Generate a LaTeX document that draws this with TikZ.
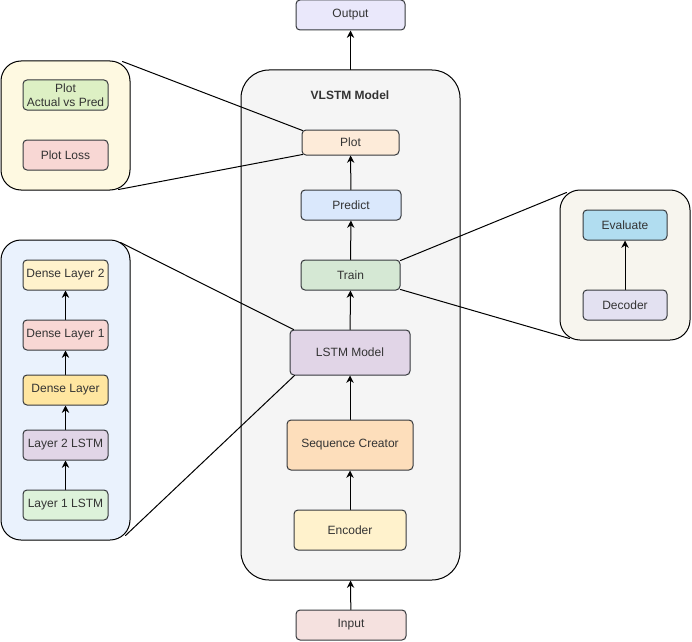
\documentclass[tikz,border=0pt]{standalone}
\usepackage{fontspec}
\setmainfont{Liberation Sans}
\usepackage{xcolor}
\usetikzlibrary{arrows.meta}
\usetikzlibrary{calc}

\definecolor{edgegray}{HTML}{36393D}
\definecolor{txtgray}{HTML}{333333}
\definecolor{outfill}{HTML}{EAE8FB}
\definecolor{infill}{HTML}{F5E1DF}
\definecolor{boxfill}{HTML}{F5F5F5}
\definecolor{plotfill}{HTML}{FDEBD9}
\definecolor{predfill}{HTML}{DAE8FC}
\definecolor{trainfill}{HTML}{D5E8D4}
\definecolor{lstmfill}{HTML}{E1D5E7}
\definecolor{seqfill}{HTML}{FDDEBB}
\definecolor{encfill}{HTML}{FFF2CC}
\definecolor{ypanelfill}{HTML}{FEF9E1}
\definecolor{avpfill}{HTML}{DDF0C4}
\definecolor{lossfill}{HTML}{F8D7D4}
\definecolor{bpanelfill}{HTML}{EAF2FD}
\definecolor{densefill}{HTML}{FFE6A0}
\definecolor{lonefill}{HTML}{DDF2DA}
\definecolor{rpanelfill}{HTML}{F7F5EE}
\definecolor{evalfill}{HTML}{B1DDF0}
\definecolor{decfill}{HTML}{E3E1F1}

\begin{document}
\begin{tikzpicture}[x=0.75pt, y=-0.75pt, line cap=round, line join=round,
		blk/.style={draw=edgegray, line width=0.75pt, rounded corners=3pt, text=txtgray,
			font=\fontsize{9}{10.5}\selectfont, align=center, inner sep=0pt},
		panel/.style={draw=black, line width=0.75pt, rounded corners=15pt, inner sep=0pt},
		flow/.style={-{Stealth[length=5.5pt,width=5.5pt]}, line width=0.75pt},
		zoomline/.style={line width=0.75pt}]
		\useasboundingbox[fill=white] (0,0) rectangle (692,642);
		% main model
		\node[panel, fill=boxfill, rounded corners=21pt, minimum width=164.25pt, minimum height=382.5pt] (vlstm) at (350.5,325) {};
		\node[font=\bfseries\fontsize{9}{10.5}\selectfont, text=txtgray] (vlstmtitle) at (350,95) {VLSTM Model};
		\node[blk, fill=outfill, minimum width=81.75pt, minimum height=22.5pt] (output) at (350.5,15) {Output};
		\node[blk, fill=infill, minimum width=82.5pt, minimum height=22.5pt] (input) at (351,625) {Input};
		\node[blk, fill=plotfill, minimum width=72.75pt, minimum height=18.75pt] (plot) at (350.5,142.5) {Plot};
		\node[blk, fill=predfill, minimum width=75pt, minimum height=22.5pt] (predict) at (351,205) {Predict};
		\node[blk, fill=trainfill, minimum width=74.25pt, minimum height=22.5pt] (train) at (350.5,275) {Train};
		\node[blk, fill=lstmfill, minimum width=90pt, minimum height=33.75pt] (lstm) at (350,352.5) {LSTM Model};
		\node[blk, fill=seqfill, minimum width=94.5pt, minimum height=37.5pt] (seqcreator) at (350,445) {Sequence Creator};
		\node[blk, fill=encfill, minimum width=84pt, minimum height=30pt] (encoder) at (350,530) {Encoder};
		\draw[flow] (input) -- (vlstm.south);
		\draw[flow] (vlstm.north) -- (output);
		\draw[flow] (encoder) -- (seqcreator);
		\draw[flow] (seqcreator) -- (lstm);
		\draw[flow] (lstm) -- (train);
		\draw[flow] (train) -- (predict);
		\draw[flow] (predict) -- (plot);
		% plot panel
		\node[panel, fill=ypanelfill, minimum width=96.75pt, minimum height=96.75pt] (plotpanel) at (65.5,125.5) {};
		\node[blk, fill=avpfill, minimum width=63.75pt, minimum height=22.5pt] (actvspred) at (65.5,95) {Plot\\Actual vs Pred};
		\node[blk, fill=lossfill, minimum width=63.75pt, minimum height=22.5pt] (plotloss) at (65.5,155) {Plot Loss};
		% lstm panel
		\node[panel, fill=bpanelfill, minimum width=96.75pt, minimum height=225pt] (lstmpanel) at (65.5,390) {};
		\node[blk, fill=encfill, minimum width=63.75pt, minimum height=22.5pt] (densetwo) at (65.5,275) {Dense Layer 2};
		\node[blk, fill=lossfill, minimum width=63.75pt, minimum height=22.5pt] (denseone) at (65.5,335) {Dense Layer 1};
		\node[blk, fill=densefill, minimum width=63.75pt, minimum height=22.5pt] (dense) at (65.5,390) {Dense Layer};
		\node[blk, fill=lstmfill, minimum width=63.75pt, minimum height=22.5pt] (layertwo) at (65.5,445) {Layer 2 LSTM};
		\node[blk, fill=lonefill, minimum width=63.75pt, minimum height=22.5pt] (layerone) at (65.5,505) {Layer 1 LSTM};
		\draw[flow] (layerone) -- (layertwo);
		\draw[flow] (layertwo) -- (dense);
		\draw[flow] (dense) -- (denseone);
		\draw[flow] (denseone) -- (densetwo);
		% train panel
		\node[panel, fill=rpanelfill, minimum width=97.5pt, minimum height=112.5pt] (trainpanel) at (625,265) {};
		\node[blk, fill=evalfill, minimum width=63pt, minimum height=22.5pt] (evaluate) at (625,225) {Evaluate};
		\node[blk, fill=decfill, minimum width=63pt, minimum height=22.5pt] (decoder) at (625,305) {Decoder};
		\draw[flow] (decoder) -- (evaluate);
		% zoom lines
		\draw[zoomline] ($(plotpanel.north east)+(-8,1)$) -- ($(plot.north west)+(1,1)$);
		\draw[zoomline] ($(plotpanel.south east)+(-12,-1)$) -- ($(plot.south west)+(1,-1)$);
		\draw[zoomline] ($(lstmpanel.north east)+(-10,3)$) -- ($(lstm.north west)+(4,0)$);
		\draw[zoomline] ($(lstmpanel.south east)+(-5,-5)$) -- ($(lstm.south west)+(5,0)$);
		\draw[zoomline] ($(train.north east)+(0,1)$) -- ($(trainpanel.north west)+(7,3)$);
		\draw[zoomline] ($(train.south east)+(0,-1)$) -- ($(trainpanel.south west)+(10,-2)$);
	\end{tikzpicture}
\end{document}
